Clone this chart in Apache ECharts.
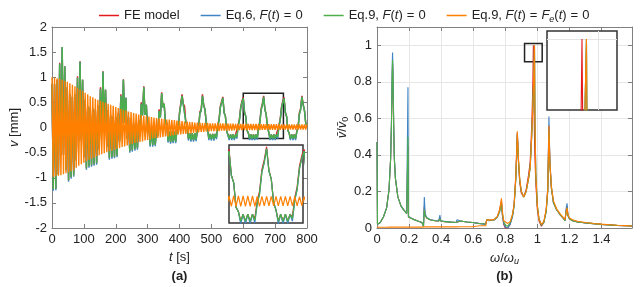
<!DOCTYPE html>
<html><head><meta charset="utf-8">
<script src="https://cdn.jsdelivr.net/npm/echarts@6/dist/echarts.min.js"></script>
<style>html,body{margin:0;padding:0;background:#fff}#c{width:641px;height:287px}</style>
</head><body><div id="c"></div><script>
// ---------- legend / series names ----------
const seriesNames = ['FE model', 'Eq.6, F(t)=0', 'Eq.9, F(t)=0', 'Eq.9, F(t)=Fe(t)=0'];
const seriesColors = ['#e41a1c', '#3f84c4', '#4daf4a', '#ff7f00'];

// ---------- panel (a): time response, sampled every DT seconds ----------
const T0 = 0, DT = 4;
const timeTicks = [0, 100, 200, 300, 400, 500, 600, 700, 800];
const dispTicks = [-2, -1.5, -1, -0.5, 0, 0.5, 1, 1.5, 2];
const vFE = [
0.87,-1.23,0.86,-1.22,0.95,-0.92,1.29,-0.55,1.60,-0.54,
1.22,-0.85,0.80,-1.05,0.66,-0.99,0.61,-0.95,0.67,-0.63,
1.02,-0.26,1.32,-0.26,0.95,-0.59,0.55,-0.81,0.43,-0.77,
0.40,-0.75,0.38,-0.73,0.36,-0.71,0.44,-0.41,0.80,-0.05,
1.12,-0.06,0.75,-0.39,0.35,-0.61,0.24,-0.59,0.22,-0.58,
0.21,-0.56,0.30,-0.26,0.66,0.10,0.96,0.10,0.59,-0.23,
0.20,-0.47,0.10,-0.45,0.08,-0.43,0.06,-0.41,0.14,-0.10,
0.50,0.27,0.82,0.26,0.45,-0.10,0.08,-0.35,-0.01,-0.35,
-0.02,-0.34,0.02,-0.14,0.36,0.23,0.70,0.42,0.47,0.05,
0.10,-0.27,-0.07,-0.29,-0.08,-0.28,-0.08,-0.28,-0.04,-0.08,
0.30,0.28,0.66,0.47,0.42,0.10,0.06,-0.23,-0.11,-0.25,
-0.11,-0.25,-0.11,-0.24,-0.05,0.00,0.31,0.36,0.66,0.45,
0.36,0.08,-0.01,-0.22,-0.13,-0.23,-0.13,-0.23,-0.13,-0.18,
0.06,0.16,0.42,0.52,0.61,0.30,0.23,-0.07,-0.10,-0.22,
-0.14,-0.22,-0.14,-0.22,-0.14,-0.17,0.05,0.17,0.41,0.53,
0.60,0.31,0.22,-0.06,-0.11,-0.22,-0.14,-0.22,-0.14,-0.22,
-0.14,-0.19,0.01,0.12,0.37,0.48,0.63,0.36,0.26,-0.01,
-0.09,-0.22,-0.14,-0.22,-0.14,-0.22,-0.14,-0.17,0.05,0.17,
0.41,0.53,0.60,0.31,0.22,-0.06,-0.11,-0.22,-0.14,-0.22,
-0.14,-0.22,-0.07,0.02,0.29,0.38,0.63,0.46,0.34,0.09,
0.02];
const vEq6 = [
0.87,-1.26,0.86,-1.25,0.93,-0.94,1.27,-0.56,1.60,-0.54,
1.22,-0.85,0.80,-1.08,0.66,-1.02,0.61,-0.98,0.65,-0.66,
0.99,-0.28,1.31,-0.26,0.95,-0.59,0.55,-0.84,0.43,-0.80,
0.40,-0.78,0.38,-0.76,0.36,-0.74,0.42,-0.44,0.77,-0.07,
1.11,-0.06,0.75,-0.39,0.35,-0.64,0.24,-0.62,0.22,-0.61,
0.21,-0.59,0.28,-0.29,0.63,0.08,0.95,0.10,0.59,-0.23,
0.20,-0.50,0.10,-0.48,0.08,-0.46,0.06,-0.44,0.12,-0.13,
0.47,0.24,0.80,0.25,0.45,-0.10,0.08,-0.38,-0.01,-0.38,
-0.02,-0.37,0.00,-0.17,0.33,0.20,0.68,0.40,0.47,0.05,
0.10,-0.30,-0.07,-0.32,-0.08,-0.31,-0.08,-0.31,-0.06,-0.11,
0.27,0.25,0.63,0.45,0.42,0.10,0.06,-0.26,-0.11,-0.28,
-0.11,-0.28,-0.11,-0.27,-0.07,-0.03,0.28,0.33,0.63,0.43,
0.36,0.08,-0.01,-0.25,-0.13,-0.26,-0.13,-0.26,-0.13,-0.23,
0.03,0.13,0.39,0.49,0.59,0.29,0.23,-0.07,-0.10,-0.25,
-0.14,-0.25,-0.14,-0.25,-0.14,-0.22,0.02,0.14,0.38,0.50,
0.58,0.30,0.22,-0.06,-0.11,-0.25,-0.14,-0.25,-0.14,-0.25,
-0.14,-0.24,-0.02,0.09,0.34,0.45,0.61,0.35,0.26,-0.01,
-0.09,-0.25,-0.14,-0.25,-0.14,-0.25,-0.14,-0.22,0.02,0.14,
0.38,0.50,0.58,0.30,0.22,-0.06,-0.11,-0.25,-0.14,-0.25,
-0.14,-0.25,-0.09,-0.01,0.26,0.35,0.61,0.45,0.34,0.09,
0.02];
const vEq9 = [
0.87,-1.23,0.86,-1.22,0.93,-0.94,1.27,-0.56,1.60,-0.54,
1.22,-0.85,0.80,-1.05,0.66,-0.99,0.61,-0.95,0.65,-0.66,
0.99,-0.28,1.31,-0.26,0.95,-0.59,0.55,-0.81,0.43,-0.77,
0.40,-0.75,0.38,-0.73,0.36,-0.71,0.42,-0.44,0.77,-0.07,
1.11,-0.06,0.75,-0.39,0.35,-0.61,0.24,-0.59,0.22,-0.58,
0.21,-0.56,0.28,-0.29,0.63,0.08,0.95,0.10,0.59,-0.23,
0.20,-0.47,0.10,-0.45,0.08,-0.43,0.06,-0.41,0.12,-0.13,
0.47,0.24,0.80,0.25,0.45,-0.10,0.08,-0.35,-0.01,-0.35,
-0.02,-0.34,0.00,-0.17,0.33,0.20,0.68,0.40,0.47,0.05,
0.10,-0.27,-0.07,-0.29,-0.08,-0.28,-0.08,-0.28,-0.06,-0.11,
0.27,0.25,0.63,0.45,0.42,0.10,0.06,-0.23,-0.11,-0.25,
-0.11,-0.25,-0.11,-0.24,-0.07,-0.03,0.28,0.33,0.63,0.43,
0.36,0.08,-0.01,-0.22,-0.13,-0.23,-0.13,-0.23,-0.13,-0.20,
0.03,0.13,0.39,0.49,0.59,0.29,0.23,-0.07,-0.10,-0.22,
-0.14,-0.22,-0.14,-0.22,-0.14,-0.19,0.02,0.14,0.38,0.50,
0.58,0.30,0.22,-0.06,-0.11,-0.22,-0.14,-0.22,-0.14,-0.22,
-0.14,-0.21,-0.02,0.09,0.34,0.45,0.61,0.35,0.26,-0.01,
-0.09,-0.22,-0.14,-0.22,-0.14,-0.22,-0.14,-0.19,0.02,0.14,
0.38,0.50,0.58,0.30,0.22,-0.06,-0.11,-0.22,-0.14,-0.22,
-0.14,-0.22,-0.09,-0.01,0.26,0.35,0.61,0.45,0.34,0.09,
0.02];
const vEq9Fe = [
1.00,-0.98,0.99,-0.97,0.98,-0.96,0.97,-0.95,0.95,-0.93,
0.93,-0.91,0.91,-0.89,0.88,-0.87,0.85,-0.85,0.82,-0.80,
0.79,-0.76,0.76,-0.73,0.73,-0.70,0.69,-0.67,0.66,-0.64,
0.62,-0.62,0.60,-0.60,0.57,-0.57,0.55,-0.55,0.53,-0.53,
0.51,-0.51,0.49,-0.49,0.47,-0.47,0.45,-0.46,0.43,-0.44,
0.41,-0.42,0.39,-0.41,0.37,-0.39,0.35,-0.38,0.34,-0.36,
0.32,-0.34,0.31,-0.33,0.29,-0.31,0.28,-0.30,0.26,-0.29,
0.25,-0.28,0.24,-0.26,0.23,-0.25,0.22,-0.24,0.21,-0.22,
0.20,-0.21,0.19,-0.21,0.18,-0.20,0.18,-0.19,0.17,-0.18,
0.16,-0.18,0.16,-0.17,0.15,-0.16,0.15,-0.15,0.14,-0.14,
0.13,-0.14,0.13,-0.13,0.12,-0.13,0.12,-0.12,0.11,-0.12,
0.11,-0.11,0.10,-0.10,0.10,-0.10,0.10,-0.09,0.09,-0.09,
0.09,-0.08,0.09,-0.08,0.08,-0.07,0.08,-0.07,0.08,-0.07,
0.08,-0.07,0.08,-0.06,0.08,-0.06,0.08,-0.06,0.075,-0.06,
0.075,-0.06,0.075,-0.055,0.07,-0.055,0.07,-0.05,0.07,-0.05,
0.07,-0.05,0.07,-0.05,0.07,-0.05,0.07,-0.05,0.07,-0.05,
0.07,-0.05,0.065,-0.05,0.065,-0.045,0.065,-0.045,0.065,-0.045,
0.065,-0.045,0.065,-0.045,0.065,-0.045,0.065,-0.045,0.06,-0.045,
0.06,-0.04,0.06,-0.04,0.06,-0.04,0.06,-0.04,0.06,-0.04,
0.06,-0.04,0.06,-0.04,0.06,-0.04,0.06,-0.04,0.06,-0.04,
0.06];
const zoomBoxA = {t: [600, 726], v: [-0.22, 0.68]};
const insetRangeA = {t: [600, 726], v: [-0.24, 0.65]};

// ---------- panel (b): normalised spectra ----------
const freqTicks = [0, 0.2, 0.4, 0.6, 0.8, 1, 1.2, 1.4];
const freqMax = 1.59;
const ampTicks = [0, 0.2, 0.4, 0.6, 0.8, 1];
const ampMax = 1.1;
const freq = [
0,0.003,0.01,0.02,0.04,0.06,0.075,0.085,0.09,0.094,
0.097,0.1,0.104,0.108,0.115,0.13,0.15,0.17,0.185,0.19,
0.193,0.196,0.2,0.22,0.25,0.28,0.29,0.295,0.3,0.31,
0.33,0.36,0.385,0.392,0.397,0.42,0.46,0.494,0.498,0.52,
0.56,0.595,0.6,0.64,0.678,0.684,0.7,0.73,0.75,0.765,
0.776,0.782,0.79,0.8,0.815,0.83,0.845,0.855,0.865,0.871,
0.875,0.882,0.89,0.9,0.915,0.93,0.945,0.955,0.962,0.967,
0.972,0.975,0.978,0.982,0.985,0.99,1.0,1.01,1.025,1.04,
1.055,1.065,1.072,1.078,1.087,1.1,1.12,1.14,1.16,1.172,
1.18,1.185,1.19,1.2,1.22,1.25,1.28,1.29,1.3,1.35,
1.4,1.45,1.5,1.55,1.59];
const sFE = [
0.47,0.02,0.02,0.03,0.06,0.11,0.21,0.38,0.56,0.78,
0.90,0.80,0.55,0.38,0.27,0.17,0.12,0.095,0.08,0.09,
0.45,0.06,0.055,0.05,0.04,0.03,0.01,0.12,0.07,0.055,
0.045,0.04,0.038,0.06,0.038,0.035,0.032,0.03,0.04,0.038,
0.033,0.03,0.028,0.025,0.022,0.045,0.042,0.045,0.06,0.10,
0.15,0.07,0.02,0.0,0.0,0.02,0.07,0.13,0.28,0.43,
0.52,0.36,0.25,0.19,0.17,0.21,0.29,0.36,0.50,0.62,
0.80,1.00,0.72,0.50,0.38,0.25,0.10,0.04,0.01,0.03,
0.10,0.22,0.56,0.36,0.22,0.14,0.10,0.075,0.055,0.04,
0.10,0.12,0.07,0.05,0.04,0.033,0.03,0.032,0.028,0.024,
0.02,0.017,0.014,0.012,0.011];
const sEq6 = [
0.47,0.02,0.02,0.03,0.06,0.11,0.21,0.38,0.58,0.85,
0.96,0.85,0.58,0.39,0.27,0.17,0.12,0.095,0.08,0.09,
0.77,0.065,0.057,0.05,0.04,0.03,0.01,0.17,0.08,0.058,
0.047,0.041,0.038,0.071,0.04,0.036,0.033,0.03,0.045,0.038,
0.033,0.03,0.027,0.024,0.02,0.043,0.04,0.044,0.058,0.09,
0.145,0.07,0.025,0.005,0.0,0.02,0.06,0.12,0.26,0.40,
0.52,0.37,0.26,0.20,0.17,0.20,0.27,0.33,0.45,0.55,
0.68,0.76,0.85,1.00,0.60,0.30,0.12,0.05,0.016,0.03,
0.09,0.21,0.61,0.37,0.23,0.14,0.10,0.075,0.055,0.04,
0.11,0.135,0.07,0.05,0.04,0.033,0.03,0.035,0.028,0.024,
0.02,0.017,0.014,0.012,0.011];
const sEq9 = [
0.47,0.02,0.02,0.03,0.06,0.11,0.21,0.38,0.56,0.80,
0.92,0.82,0.56,0.38,0.27,0.17,0.12,0.095,0.08,0.09,
0.50,0.06,0.055,0.05,0.04,0.03,0.01,0.10,0.07,0.055,
0.045,0.04,0.038,0.05,0.038,0.035,0.032,0.03,0.04,0.038,
0.033,0.03,0.028,0.025,0.022,0.045,0.042,0.045,0.06,0.09,
0.13,0.08,0.035,0.015,0.01,0.03,0.07,0.12,0.26,0.40,
0.51,0.37,0.26,0.20,0.17,0.20,0.27,0.33,0.45,0.55,
0.68,0.76,0.85,1.00,0.60,0.30,0.12,0.05,0.016,0.03,
0.09,0.20,0.52,0.35,0.22,0.14,0.10,0.075,0.055,0.04,
0.09,0.11,0.07,0.05,0.04,0.033,0.03,0.032,0.028,0.024,
0.02,0.017,0.014,0.012,0.011];
const sEq9Fe = [
0.005,0.004,0.004,0.004,0.004,0.004,0.005,0.005,0.005,0.005,
0.006,0.005,0.005,0.005,0.005,0.005,0.005,0.005,0.005,0.005,
0.006,0.005,0.005,0.005,0.005,0.005,0.005,0.006,0.006,0.006,
0.006,0.006,0.006,0.007,0.006,0.006,0.006,0.006,0.007,0.007,
0.007,0.007,0.012,0.012,0.013,0.045,0.043,0.046,0.062,0.10,
0.162,0.09,0.04,0.03,0.025,0.035,0.075,0.13,0.27,0.42,
0.53,0.38,0.27,0.20,0.17,0.20,0.27,0.33,0.45,0.55,
0.68,0.76,0.85,1.00,0.60,0.30,0.12,0.05,0.02,0.035,
0.10,0.21,0.56,0.36,0.23,0.15,0.105,0.08,0.058,0.045,
0.09,0.11,0.075,0.055,0.045,0.037,0.033,0.036,0.03,0.025,
0.021,0.018,0.015,0.013,0.011];
const zoomBoxB = {f: [0.92, 1.03], v: [0.91, 1.01]};

// ---------- build ----------
const FONT = '"Liberation Sans", Arial, sans-serif';
const TXT = '#222';
const AXC = '#808080';
const RICH = {
  i: {fontStyle: 'italic', fontSize: 13, fontFamily: FONT, color: TXT},
  e: {fontSize: 13, fontFamily: FONT, color: TXT, padding: [0, 4, 0, 4]},
  s: {fontStyle: 'italic', fontSize: 9, fontFamily: FONT, color: TXT, verticalAlign: 'bottom', padding: [7, 0, 0, 0]},
  s0: {fontSize: 9, fontFamily: FONT, color: TXT, verticalAlign: 'bottom', padding: [7, 0, 0, 0]}
};
const tSeries = [vFE, vEq6, vEq9, vEq9Fe].map(a => a.map((v, i) => [T0 + i * DT, v]));
const fSeries = [sFE, sEq6, sEq9, sEq9Fe].map(a => a.map((v, i) => [freq[i], v]));

function step(t) { return t[1] - t[0]; }
function mainAxis(grid, pos, ticks, max, showLabels, extra) {
  return Object.assign({
    type: 'value', gridIndex: grid, position: pos,
    min: ticks[0], max: max, interval: step(ticks),
    axisLine: {show: true, onZero: false, lineStyle: {color: AXC, width: 1}},
    axisTick: {show: true, inside: true, length: 4, lineStyle: {color: AXC}},
    axisLabel: {show: showLabels, color: TXT, fontSize: 13, fontFamily: FONT, margin: 5},
    splitLine: {show: false}
  }, extra || {});
}
function insetAxis(grid, range, gridAt) {
  const o = {type: 'value', gridIndex: grid, min: range[0], max: range[1], z: 6,
    axisLine: {show: false, onZero: false}, axisTick: {show: false}, axisLabel: {show: false},
    splitLine: {show: false}};
  if (gridAt !== undefined) {
    o.interval = gridAt - range[0];
    o.splitLine = {show: true, showMinLine: false, showMaxLine: false, lineStyle: {color: '#e4e4e4', width: 1}};
  }
  return o;
}
const gridLine = {show: true, lineStyle: {color: '#e6e6e6', width: 1}};

const xAxes = [
  mainAxis(0, 'bottom', timeTicks, timeTicks[timeTicks.length - 1], true, {
    name: '{i|t} [s]', nameLocation: 'middle', nameGap: 22,
    nameTextStyle: {fontSize: 13, fontFamily: FONT, color: TXT, rich: RICH}}),
  mainAxis(0, 'top', timeTicks, timeTicks[timeTicks.length - 1], false),
  insetAxis(1, insetRangeA.t),
  mainAxis(2, 'bottom', freqTicks, freqMax, true, {
    name: '{i|ω}/{i|ω}{s|u}', nameLocation: 'middle', nameGap: 22,
    nameTextStyle: {fontSize: 13, fontFamily: FONT, color: TXT, rich: RICH},
    splitLine: gridLine}),
  mainAxis(2, 'top', freqTicks, freqMax, false),
  insetAxis(3, zoomBoxB.f, 1.0)
];
xAxes[3].axisLabel.showMaxLabel = false;
const yAxes = [
  mainAxis(0, 'left', dispTicks, dispTicks[dispTicks.length - 1], true, {
    name: '{i|v} [mm]', nameLocation: 'middle', nameGap: 30,
    nameTextStyle: {fontSize: 13, fontFamily: FONT, color: TXT, rich: RICH}}),
  mainAxis(0, 'right', dispTicks, dispTicks[dispTicks.length - 1], false),
  insetAxis(1, insetRangeA.v),
  mainAxis(2, 'left', ampTicks, ampMax, true, {
    name: '{i|v̄}/{i|v̄}{s0|0}', nameLocation: 'middle', nameGap: 27,
    nameTextStyle: {fontSize: 13, fontFamily: FONT, color: TXT, rich: RICH},
    splitLine: gridLine}),
  mainAxis(2, 'right', ampTicks, ampMax, false),
  insetAxis(3, zoomBoxB.v, 1.0)
];
yAxes[3].axisLabel.showMaxLabel = false;

const boxStyle = {color: 'rgba(0,0,0,0)', borderColor: '#222', borderWidth: 1.5};
const series = [];
function addSet(dataSets, xi, yi, z, width, box) {
  dataSets.forEach((d, k) => {
    const s = {
      name: seriesNames[k], type: 'line', xAxisIndex: xi, yAxisIndex: yi,
      data: d, showSymbol: false, symbol: 'none', clip: true, z: z,
      lineStyle: {width: width, color: seriesColors[k]}, itemStyle: {color: seriesColors[k]},
      animation: false
    };
    if (box && k === 3) {
      s.markArea = {silent: true, itemStyle: boxStyle, data: [box]};
    }
    series.push(s);
  });
}
addSet(tSeries, 0, 0, 2, 1.4, [{coord: [zoomBoxA.t[0], zoomBoxA.v[0]]}, {coord: [zoomBoxA.t[1], zoomBoxA.v[1]]}]);
addSet(tSeries, 2, 2, 7, 1.2);
addSet(fSeries, 3, 3, 2, 1.1, [{coord: [zoomBoxB.f[0], zoomBoxB.v[0]]}, {coord: [zoomBoxB.f[1], zoomBoxB.v[1]]}]);
addSet(fSeries, 5, 5, 7, 1.1);

const legendText = {
  'FE model': 'FE model',
  'Eq.6, F(t)=0': 'Eq.6, {i|F}({i|t}){e|=}0',
  'Eq.9, F(t)=0': 'Eq.9, {i|F}({i|t}){e|=}0',
  'Eq.9, F(t)=Fe(t)=0': 'Eq.9, {i|F}({i|t}){e|=}{i|F}{s|e}({i|t}){e|=}0'
};

const chart = echarts.init(document.getElementById('c'), null, {renderer: 'canvas', width: 641, height: 287});
chart.setOption({
  animation: false,
  backgroundColor: '#fff',
  textStyle: {fontFamily: FONT},
  legend: {
    data: seriesNames, top: 4, left: 94, icon: 'rect', itemWidth: 20, itemHeight: 1.5, itemGap: 21,
    textStyle: {fontSize: 13, fontFamily: FONT, color: TXT, rich: RICH},
    formatter: n => legendText[n]
  },
  grid: [
    {left: 52, top: 27, width: 255, height: 201, outerBoundsMode: 'none'},
    {left: 229, top: 145, width: 74, height: 78, show: true, backgroundColor: '#fff', borderColor: '#333', borderWidth: 1.5, z: 5, outerBoundsMode: 'none'},
    {left: 377, top: 27, width: 255, height: 201, outerBoundsMode: 'none'},
    {left: 547, top: 31, width: 70, height: 79, show: true, backgroundColor: '#fff', borderColor: '#333', borderWidth: 1.5, z: 5, outerBoundsMode: 'none'}
  ],
  xAxis: xAxes,
  yAxis: yAxes,
  series: series,
  graphic: [
    {type: 'text', x: 179.5, y: 276, style: {text: '(a)', textAlign: 'center', textVerticalAlign: 'middle', font: 'bold 13px "Liberation Sans"', fill: TXT}},
    {type: 'text', x: 504.5, y: 276, style: {text: '(b)', textAlign: 'center', textVerticalAlign: 'middle', font: 'bold 13px "Liberation Sans"', fill: TXT}}
  ]
});
</script></body></html>
